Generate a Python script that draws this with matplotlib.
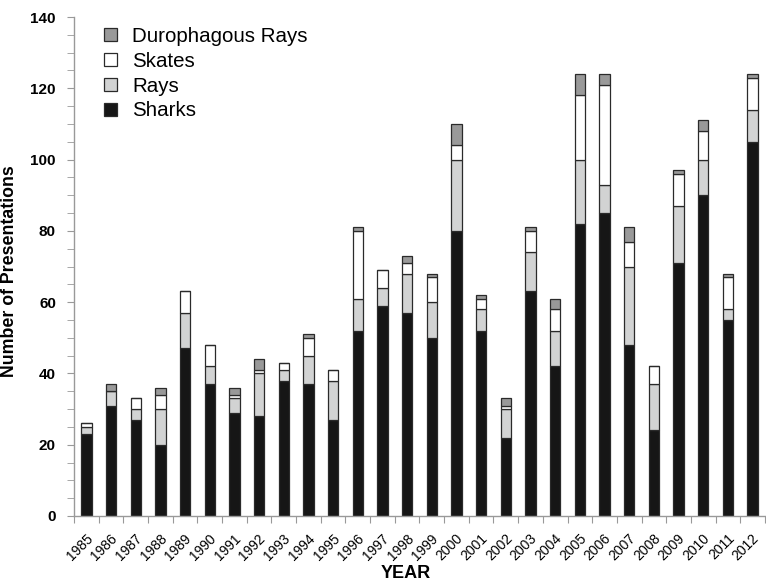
import matplotlib
matplotlib.use("Agg")
import matplotlib.pyplot as plt
import matplotlib.transforms as mtransforms
from matplotlib.patches import Patch
import numpy as np

plt.rcParams['font.family'] = ['Liberation Sans', 'DejaVu Sans']

years = [str(y) for y in range(1985, 2013)]
sharks = [23, 31, 27, 20, 47, 37, 29, 28, 38, 37, 27, 52, 59, 57, 50, 80, 52, 22, 63, 42, 82, 85, 48, 24, 71, 90, 55, 105]
rays   = [2, 4, 3, 10, 10, 5, 4, 12, 3, 8, 11, 9, 5, 11, 10, 20, 6, 8, 11, 10, 18, 8, 22, 13, 16, 10, 3, 9]
skates = [1, 0, 3, 4, 6, 6, 1, 1, 2, 5, 3, 19, 5, 3, 7, 4, 3, 1, 6, 6, 18, 28, 7, 5, 9, 8, 9, 9]
duro   = [0, 2, 0, 2, 0, 0, 2, 3, 0, 1, 0, 1, 0, 2, 1, 6, 1, 2, 1, 3, 6, 3, 4, 0, 1, 3, 1, 1]

series = [
    ("Sharks", sharks, "#161616"),
    ("Rays", rays, "#d2d3d3"),
    ("Skates", skates, "#ffffff"),
    ("Durophagous Rays", duro, "#999999"),
]

fig = plt.figure(figsize=(7.66, 5.81), dpi=100)
ax = fig.add_axes([0.0966, 0.1119, 0.9020, 0.8588])

x = np.arange(len(years))
bottom = np.zeros(len(years))
for name, vals, col in series:
    v = np.array(vals, dtype=float)
    ax.bar(x, v, width=0.42, bottom=bottom, color=col, edgecolor="#2a2a2a",
           linewidth=0.9, label=name)
    bottom += v

ax.set_xlim(-0.5, len(years) - 0.5)
ax.set_ylim(0, 140)

# y axis
ax.set_yticks(np.arange(0, 141, 20))
ax.set_yticks(np.arange(0, 141, 5), minor=True)
ax.tick_params(axis='y', which='both', direction='out', length=5, color='#999999',
               labelsize=11, pad=8)
for lbl in ax.get_yticklabels():
    lbl.set_fontweight('bold')

# x axis: ticks at boundaries, labels centered
ax.set_xticks(np.arange(-0.5, len(years), 1.0))
ax.set_xticklabels([])
ax.set_xticks(x, minor=True)
ax.set_xticklabels(years, minor=True, rotation=45, ha='right', rotation_mode='anchor',
                   fontsize=10)
ax.tick_params(axis='x', which='major', direction='out', length=5, color='#999999')
ax.tick_params(axis='x', which='minor', length=0, pad=11)
offset = mtransforms.ScaledTranslation(-0.5/72, 0, fig.dpi_scale_trans)
for lbl in ax.get_xticklabels(minor=True):
    lbl.set_transform(lbl.get_transform() + offset)

for s in ['top', 'right']:
    ax.spines[s].set_visible(False)
for s in ['left', 'bottom']:
    ax.spines[s].set_color('#999999')
    ax.spines[s].set_linewidth(1.0)

ax.set_ylabel("Number of Presentations", fontsize=12.8, fontweight='bold')
ax.yaxis.set_label_coords(-0.081, 0.49)
ax.set_xlabel("YEAR", fontsize=13, fontweight='bold')
ax.xaxis.set_label_coords(0.48, -0.098)

handles = [Patch(facecolor=c, edgecolor="#2a2a2a", linewidth=0.9, label=n)
           for n, _, c in reversed(series)]
ax.legend(handles=handles, loc='upper left', bbox_to_anchor=(0.038, 0.988), frameon=False,
          fontsize=14.8, handlelength=0.6, handleheight=0.6, handletextpad=0.75,
          labelspacing=0.28, borderaxespad=0.0, borderpad=0.2)

fig.savefig("out.png", dpi=100)
